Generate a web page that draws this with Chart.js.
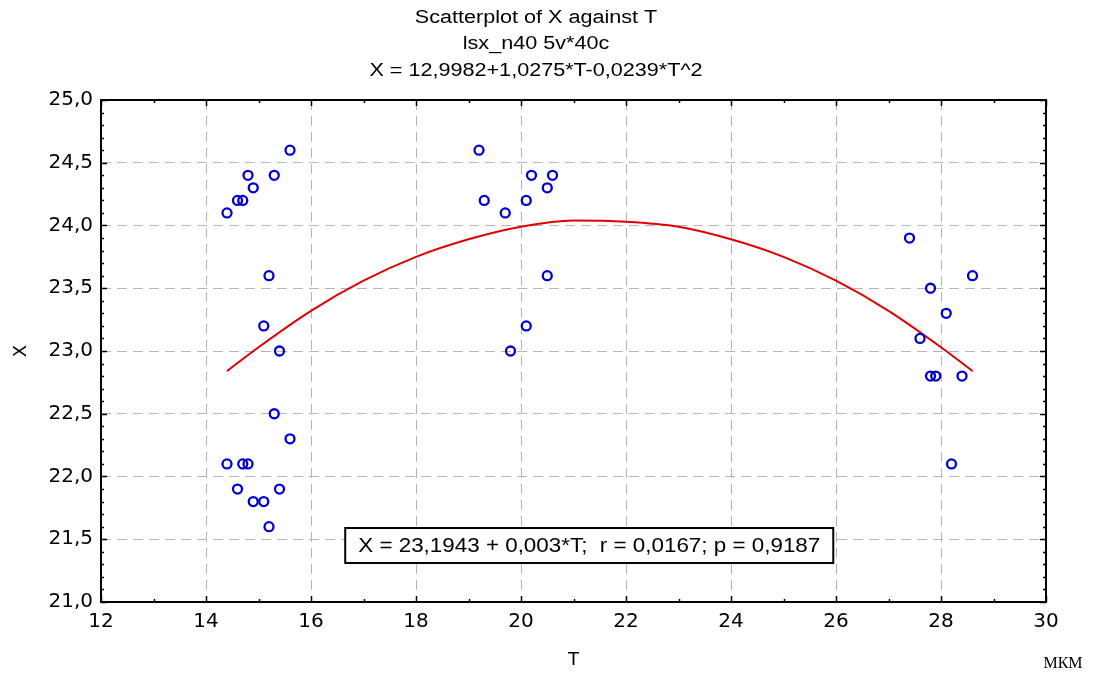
<!DOCTYPE html>
<html>
<head>
<meta charset="utf-8">
<title>Scatterplot of X against T</title>
<script src="https://cdn.jsdelivr.net/npm/chart.js@4/dist/chart.umd.min.js"></script>
<style>
  body { margin: 0; background: #fff; }
</style>
</head>
<body>
<canvas id="grafico" width="1106" height="675"></canvas>
<script>
const titulos = ['Scatterplot of X against T', 'lsx_n40 5v*40c', 'X = 12,9982+1,0275*T-0,0239*T^2']
const textoRegressao = 'X = 23,1943 + 0,003*T;  r = 0,0167; p = 0,9187'
const textoUnidade = 'МКМ'

// pontos observados (T, X)
const pontosT = [14.4, 14.6, 14.7, 14.8, 14.9, 15.3, 15.6, 15.2, 15.1, 15.4, 15.3, 15.6, 14.4, 14.7, 14.8, 14.6, 14.9, 15.1, 15.4, 15.2,
  19.2, 20.2, 20.6, 20.5, 19.3, 20.1, 19.7, 20.5, 20.1, 19.8,
  27.4, 28.6, 27.8, 28.1, 27.6, 27.8, 27.9, 28.4, 28.2]
const pontosX = [24.1, 24.2, 24.2, 24.4, 24.3, 24.4, 24.6, 23.6, 23.2, 23.0, 22.5, 22.3, 22.1, 22.1, 22.1, 21.9, 21.8, 21.8, 21.9, 21.6,
  24.6, 24.4, 24.4, 24.3, 24.2, 24.2, 24.1, 23.6, 23.2, 23.0,
  23.9, 23.6, 23.5, 23.3, 23.1, 22.8, 22.8, 22.8, 22.1]

// curva ajustada
const curvaT = [14.4, 15, 16, 17, 18, 19, 20, 21, 22, 23, 24, 25, 26, 27, 28, 28.6]
const curvaX = [22.84, 23.03, 23.32, 23.56, 23.75, 23.89, 23.99, 24.04, 24.03, 23.99, 23.89, 23.75, 23.56, 23.32, 23.03, 22.84]

const eixoT = { min: 12, max: 30, passo: 2, menor: 1 }
const eixoX = { min: 21, max: 25, passo: 0.5, menor: 0.1 }

const molduraPlugin = {
  id: 'moldura',
  afterDraw(chart) {
    const ctx = chart.ctx
    const a = chart.chartArea
    const sx = chart.scales.x
    const sy = chart.scales.y
    ctx.save()
    // titulos
    ctx.fillStyle = '#000'
    ctx.textAlign = 'center'
    ctx.textBaseline = 'middle'
    ctx.font = '18px "Liberation Sans", Arial, sans-serif'
    titulos.forEach((t, i) => {
      ctx.save()
      ctx.translate(536, 18 + i * 26.5)
      ctx.scale(1.2, 1)
      ctx.fillText(t, 0, 0)
      ctx.restore()
    })

    // marcas internas
    ctx.strokeStyle = '#000'
    ctx.lineWidth = 1.5
    ctx.beginPath()
    for (let v = eixoT.min; v <= eixoT.max + 1e-9; v += eixoT.menor) {
      const px = Math.round(sx.getPixelForValue(v)) + 0.5
      const maior = Math.abs(Math.round(v / eixoT.passo) * eixoT.passo - v) < 1e-6
      const len = maior ? 6 : 3
      ctx.moveTo(px, a.bottom); ctx.lineTo(px, a.bottom - len)
      ctx.moveTo(px, a.top); ctx.lineTo(px, a.top + len)
    }
    for (let v = eixoX.min; v <= eixoX.max + 1e-9; v += eixoX.menor) {
      const py = Math.round(sy.getPixelForValue(v)) + 0.5
      const maior = Math.abs(Math.round(v / eixoX.passo) * eixoX.passo - v) < 1e-6
      const len = maior ? 6 : 3
      ctx.moveTo(a.left, py); ctx.lineTo(a.left + len, py)
      ctx.moveTo(a.right, py); ctx.lineTo(a.right - len, py)
    }
    ctx.stroke()

    // moldura
    ctx.lineWidth = 2
    ctx.strokeRect(a.left, a.top, a.right - a.left, a.bottom - a.top)

    // caixa da regressao linear
    ctx.font = '20px "Liberation Sans", Arial, sans-serif'
    const esticar = 1.12
    const w = ctx.measureText(textoRegressao).width * esticar + 26
    const h = 35
    const cx = sx.getPixelForValue(21.3)
    const cy = sy.getPixelForValue(21.45)
    ctx.fillStyle = '#fff'
    ctx.fillRect(cx - w / 2, cy - h / 2, w, h)
    ctx.lineWidth = 2
    ctx.strokeRect(cx - w / 2, cy - h / 2, w, h)
    ctx.fillStyle = '#000'
    ctx.save()
    ctx.translate(cx, cy + 1)
    ctx.scale(esticar, 1)
    ctx.fillText(textoRegressao, 0, 0)
    ctx.restore()

    // unidade
    ctx.font = '16px "Liberation Serif", "Times New Roman", serif'
    ctx.fillText(textoUnidade, 1063, 664)
    ctx.restore()
  }
}

const ctx = document.getElementById('grafico').getContext('2d')
new Chart(ctx, {
  type: 'scatter',
  data: {
    datasets: [{
      label: 'X',
      data: pontosT.map((t, i) => ({ x: t, y: pontosX[i] })),
      pointStyle: 'circle',
      pointRadius: 4.5,
      pointBorderWidth: 2.3,
      pointBorderColor: '#0000d0',
      pointBackgroundColor: 'rgba(255,255,255,0)',
      showLine: false,
      order: 1
    }, {
      label: 'ajuste',
      data: curvaT.map((t, i) => ({ x: t, y: curvaX[i] })),
      showLine: true,
      borderColor: '#e00000',
      borderWidth: 2,
      pointRadius: 0,
      tension: 0.4,
      cubicInterpolationMode: 'monotone',
      order: 2
    }]
  },
  options: {
    responsive: false,
    animation: false,
    layout: { padding: { left: 0, right: 60, top: 100, bottom: 0 } },
    plugins: {
      legend: { display: false },
      tooltip: { enabled: false }
    },
    scales: {
      x: {
        type: 'linear',
        min: eixoT.min,
        max: eixoT.max,
        afterFit: s => { s.height = 73 },
        ticks: {
          stepSize: eixoT.passo,
          padding: 8,
          color: '#000',
          font: { family: '"DejaVu Sans", sans-serif', size: 20 }
        },
        grid: { color: '#b4b4b4', lineWidth: 1, drawTicks: false },
        border: { display: false, dash: [10, 6] },
        title: {
          display: true,
          text: 'T',
          color: '#000',
          padding: { top: 4, bottom: 4 },
          font: { family: '"DejaVu Sans", sans-serif', size: 18 }
        }
      },
      y: {
        type: 'linear',
        min: eixoX.min,
        max: eixoX.max,
        afterFit: s => { s.width = 101 },
        ticks: {
          stepSize: eixoX.passo,
          padding: 8,
          color: '#000',
          font: { family: '"DejaVu Sans", sans-serif', size: 20 },
          callback: v => v.toFixed(1).replace('.', ',')
        },
        grid: { color: '#b4b4b4', lineWidth: 1, drawTicks: false },
        border: { display: false, dash: [10, 6] },
        title: {
          display: true,
          text: 'X',
          color: '#000',
          padding: { top: 11, bottom: 11 },
          font: { family: '"DejaVu Sans", sans-serif', size: 18 }
        }
      }
    }
  },
  plugins: [molduraPlugin]
})
</script>
</body>
</html>
